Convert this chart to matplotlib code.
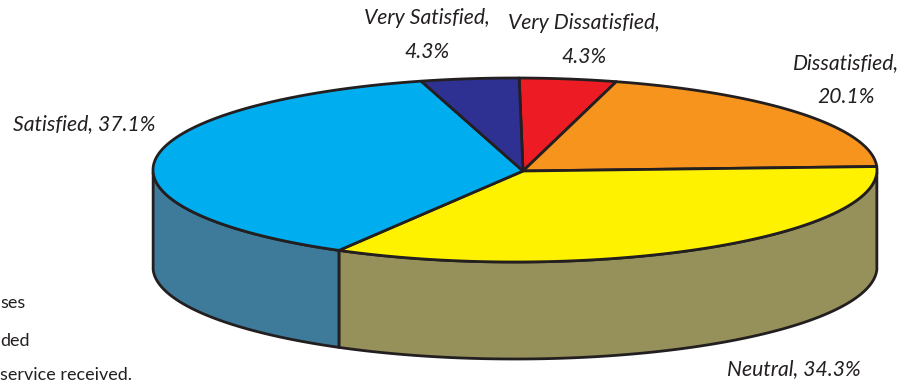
import numpy as np
import matplotlib
matplotlib.use('Agg')
import matplotlib.pyplot as plt
from matplotlib.patches import Polygon

# clockwise from 12 o'clock
categories = ['Very Dissatisfied', 'Dissatisfied', 'Neutral', 'Satisfied', 'Very Satisfied']
values = [4.3, 20.1, 34.3, 37.1, 4.3]
top_colors = ['#ED1C24', '#F7941D', '#FFF200', '#00AEEF', '#2E3192']
side_colors = {'Neutral': '#96915A', 'Satisfied': '#3E7B9B'}
label_text = ['Very Dissatisfied,\n4.3%', 'Dissatisfied,\n20.1%', 'Neutral, 34.3%',
              'Satisfied, 37.1%', 'Very Satisfied,\n4.3%']
label_pos = [(584, 40, 'center'), (846, 80, 'center'), (727, 369, 'left'),
             (13, 124, 'left'), (427, 35, 'center')]
clipped_text = ['ses', 'ded', 'service received.']
clipped_pos = [(0, 303), (0, 341), (0, 375)]

cx, cy, rx, ry = 515, 170, 362, 92
ax_, ay_ = 523, 171     # the apex sits a little off the ellipse centre
start_angle = -0.6
depth = 97
edge = '#231F20'
font = ['Lato', 'DejaVu Sans']


def Rim(deg):
    # point where a ray from the apex, in unsquashed space, meets the rim
    t = np.radians(deg)
    dx, dy = np.sin(t), -np.cos(t)
    ox, oy = (ax_ - cx) / rx, (ay_ - cy) / ry
    b = ox * dx + oy * dy
    s = -b + np.sqrt(b * b - (ox * ox + oy * oy - 1))
    return cx + rx * (ox + s * dx), cy + ry * (oy + s * dy)


def Arc(d0, d1):
    return [Rim(d) for d in np.linspace(d0, d1, 120)]


fig = plt.figure(figsize=(9.08, 3.85), dpi=100)
ax = fig.add_axes([0, 0, 1, 1])
ax.set_xlim(0, 908)
ax.set_ylim(385, 0)
ax.axis('off')

bounds = start_angle + np.concatenate([[0], np.cumsum(values)]) / sum(values) * 360

# side wall first, only the front half of the pie shows
for i, name in enumerate(categories):
    if name not in side_colors:
        continue
    d0 = max(bounds[i], 91)
    d1 = min(bounds[i + 1], 269)
    rim = Arc(d0, d1)
    low = [(x, y + depth) for x, y in rim]
    ax.add_patch(Polygon(rim + low[::-1], closed=True, facecolor=side_colors[name],
                         edgecolor=edge, linewidth=2, joinstyle='round'))

# top face
for i, name in enumerate(categories):
    pts = [(ax_, ay_)] + Arc(bounds[i], bounds[i + 1])
    ax.add_patch(Polygon(pts, closed=True, facecolor=top_colors[i],
                         edgecolor=edge, linewidth=2, joinstyle='round'))

for txt, (x, y, ha) in zip(label_text, label_pos):
    ax.text(x, y, txt, ha=ha, va='center', fontsize=15.2, style='italic',
            family=font, color='#231F20', linespacing=1.85)
for txt, (x, y) in zip(clipped_text, clipped_pos):
    ax.text(x, y, txt, ha='left', va='center', fontsize=13, family=font, color='#231F20')

fig.savefig('out.png', dpi=100)
